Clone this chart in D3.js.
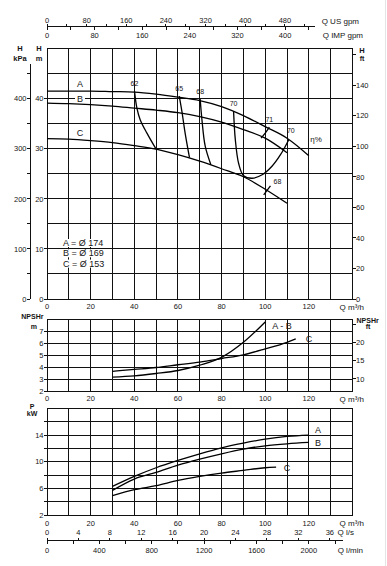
<!DOCTYPE html>
<html>
<head>
<meta charset="utf-8">
<script src="https://cdn.jsdelivr.net/npm/d3@7"></script>
<style>
    body { margin: 0; background: #fff; }
    svg text { font-family: 'Liberation Sans', Arial, sans-serif; fill: #151515; }
</style>
</head>
<body>
<div id="chart"></div>
<script>
// head curves, H [m] against Q [m3/h]
var qHeadA = [0, 10, 20, 30, 40, 50, 60, 70, 80, 90, 100, 110, 120];
var headA = [41.5, 41.5, 41.5, 41.4, 41.3, 40.9, 40.3, 39.6, 38.4, 36.6, 34.4, 32.1, 28.6];
var qHeadBC = [0, 10, 20, 30, 40, 50, 60, 70, 80, 90, 100, 110];
var headB = [39.1, 39.0, 38.8, 38.5, 38.1, 37.7, 37.2, 36.4, 35.3, 33.8, 32.1, 29.2];
var headC = [32.0, 31.9, 31.6, 31.2, 30.6, 29.9, 28.8, 27.5, 26.0, 24.4, 21.9, 19.1];

// iso-efficiency lines (eta %)
var effNames = ['62', '65', '68', '70', '71', '68'];
var effQ = [
    [40.1, 41.2, 42.7, 45.8, 50.0],
    [60.6, 61.8, 63.3, 65.3],
    [70.2, 71.0, 72.5, 75.1],
    [85.5, 86.3, 87.8, 90.1, 94.0, 98.6, 103.1, 107.0, 110.8],
    [101.9, 100.0, 98.1],
    [99.3, 102.4]
];
var effH = [
    [41.5, 38.1, 35.8, 33.1, 29.9],
    [40.5, 37.5, 33.1, 28.2],
    [39.9, 35.8, 30.5, 26.8],
    [37.5, 31.8, 27.1, 24.6, 24.1, 24.8, 26.5, 28.8, 31.8],
    [34.3, 33.1, 32.1],
    [20.8, 22.6]
];

// NPSHr [m]
var qNpshAB = [30, 40, 50, 60, 70, 80, 90, 100];
var npshAB = [3.2, 3.3, 3.5, 3.75, 4.2, 4.85, 6.1, 7.8];
var qNpshC = [30, 40, 50, 60, 70, 80, 90, 100, 110, 114];
var npshC = [3.68, 3.84, 4.0, 4.23, 4.45, 4.75, 5.06, 5.55, 6.1, 6.38];

// power P [kW]
var qPowAB = [30, 40, 50, 60, 70, 80, 90, 100, 110, 120];
var powA = [6.3, 7.8, 9.1, 10.2, 11.2, 12.1, 12.8, 13.4, 13.8, 14.0];
var powB = [5.7, 7.4, 8.4, 9.5, 10.4, 11.2, 11.9, 12.4, 12.7, 12.9];
var qPowC = [30, 40, 50, 60, 70, 80, 90, 100, 105];
var powC = [4.9, 5.8, 6.4, 7.2, 7.8, 8.3, 8.7, 9.1, 9.2];

// impeller legend
var impellers = ['A = Ø 174', 'B = Ø 169', 'C = Ø 153'];

// tick labels
var qLabels = [0, 20, 40, 60, 80, 100, 120];
var usLabels = [0, 80, 160, 240, 320, 400, 480];
var impLabels = [0, 80, 160, 240, 320, 400];
var lsLabels = [0, 4, 8, 12, 16, 20, 24, 28, 32, 36];
var lminLabels = [0, 400, 800, 1200, 1600, 2000];
var hLabels = [0, 10, 20, 30, 40];
var kpaLabels = [0, 100, 200, 300, 400];
var ftLabels = [0, 20, 40, 60, 80, 100, 120, 140];
var npshLabels = [2, 3, 4, 5, 6, 7];
var npshFtLabels = [10, 15, 20];
var powLabels = [2, 6, 10, 14];

var width = 387;
var height = 566;
var ink = '#111';

var svg = d3.select('#chart').append('svg')
    .attr('width', width)
    .attr('height', height);

// q scales
var x = d3.scaleLinear().domain([0, 140]).range([47, 352.5]);
var xUS = d3.scaleLinear().domain([0, 140 * 4.4029]).range(x.range());
var xIMP = d3.scaleLinear().domain([0, 140 * 3.6662]).range(x.range());
var xLs = d3.scaleLinear().domain([0, 140 / 3.6]).range(x.range());
var xLmin = d3.scaleLinear().domain([0, 140 * 1000 / 60]).range(x.range());

// vertical scales
var yH = d3.scaleLinear().domain([0, 50]).range([299, 48.5]);
var yKpa = d3.scaleLinear().domain([0, 500]).range(yH.range());
var yFt = d3.scaleLinear().domain([0, 50 * 3.2808]).range(yH.range());
var yN = d3.scaleLinear().domain([2, 8]).range([391.5, 319.5]);
var yNft = d3.scaleLinear().domain([2 * 3.2808, 8 * 3.2808]).range(yN.range());
var yP = d3.scaleLinear().domain([2, 18]).range([515, 408.5]);

function zip(qs, vs) {
    return qs.map(function (q, i) { return [q, vs[i]]; });
}

function text(g, tx, ty, str, size, anchor, weight) {
    return g.append('text')
        .attr('x', tx)
        .attr('y', ty)
        .attr('text-anchor', anchor || 'middle')
        .style('font-size', size + 'px')
        .style('font-weight', weight || 'normal')
        .text(str);
}

// grid of one panel
function grid(yScale, yStep) {
    var g = svg.append('g').attr('shape-rendering', 'crispEdges');
    var y0 = yScale.domain()[0];
    var y1 = yScale.domain()[1];
    g.selectAll('.vg')
        .data(d3.range(0, 141, 10))
        .enter().append('line')
        .attr('x1', function (d) { return x(d); })
        .attr('x2', function (d) { return x(d); })
        .attr('y1', yScale(y0))
        .attr('y2', yScale(y1))
        .attr('stroke', ink)
        .attr('stroke-width', 1);
    g.selectAll('.hg')
        .data(d3.range(y0, y1 + 0.001, yStep))
        .enter().append('line')
        .attr('x1', x(0))
        .attr('x2', x(140))
        .attr('y1', function (d) { return yScale(d); })
        .attr('y2', function (d) { return yScale(d); })
        .attr('stroke', ink)
        .attr('stroke-width', 1);
    return g;
}

// ticks drawn outwards from a vertical line
function vTicks(xPos, scale, values, side, labels) {
    var g = svg.append('g');
    g.selectAll('line')
        .data(values)
        .enter().append('line')
        .attr('x1', xPos)
        .attr('x2', xPos + side * 3)
        .attr('y1', function (d) { return scale(d); })
        .attr('y2', function (d) { return scale(d); })
        .attr('stroke', ink)
        .attr('stroke-width', 1)
        .attr('shape-rendering', 'crispEdges');
    g.selectAll('text')
        .data(labels)
        .enter().append('text')
        .attr('x', xPos + side * 3.5)
        .attr('y', function (d) { return scale(d) + 2.7; })
        .attr('text-anchor', side < 0 ? 'end' : 'start')
        .style('font-size', '7.5px')
        .text(function (d) { return d; });
}

function qLabelRow(yPos) {
    var g = svg.append('g');
    g.selectAll('text')
        .data(qLabels)
        .enter().append('text')
        .attr('x', function (d) { return x(d); })
        .attr('y', yPos)
        .attr('text-anchor', 'middle')
        .style('font-size', '7.5px')
        .text(function (d) { return d; });
    text(g, 364, yPos + 0.5, 'Q m³/h', 8, 'end');
}

// ticks drawn from a horizontal line
function hTicks(scale, step, max, yPos, dir, labels, labelY) {
    var g = svg.append('g');
    g.selectAll('line')
        .data(d3.range(0, max + 0.001, step))
        .enter().append('line')
        .attr('x1', function (d) { return scale(d); })
        .attr('x2', function (d) { return scale(d); })
        .attr('y1', yPos)
        .attr('y2', yPos + dir * 3)
        .attr('stroke', ink)
        .attr('stroke-width', 1)
        .attr('shape-rendering', 'crispEdges');
    g.selectAll('text')
        .data(labels)
        .enter().append('text')
        .attr('x', function (d) { return scale(d); })
        .attr('y', labelY)
        .attr('text-anchor', 'middle')
        .style('font-size', '7.5px')
        .text(function (d) { return d; });
}

function curve(g, pts, yScale, kind) {
    g.append('path')
        .datum(pts)
        .attr('d', d3.line()
            .x(function (d) { return x(d[0]); })
            .y(function (d) { return yScale(d[1]); })
            .curve(kind || d3.curveMonotoneX))
        .attr('fill', 'none')
        .attr('stroke', '#000')
        .attr('stroke-width', 1.3);
}

// ---------- top flow axes ----------
svg.append('line')
    .attr('x1', x(0)).attr('x2', x(123))
    .attr('y1', 26.5).attr('y2', 26.5)
    .attr('stroke', ink).attr('stroke-width', 1)
    .attr('shape-rendering', 'crispEdges');
hTicks(xUS, 40, 540, 26.5, -1, usLabels, 23.4);
hTicks(xIMP, 40, 440, 26.5, 1, impLabels, 37.8);
text(svg, 359, 23.6, 'Q US gpm', 8, 'end');
text(svg, 363, 38, 'Q IMP gpm', 8, 'end');

// ---------- head panel ----------
grid(yH, 5);
vTicks(x(0), yH, hLabels, -1, hLabels);
vTicks(x(140), yFt, d3.range(0, 161, 20), 1, ftLabels);
svg.append('line')
    .attr('x1', 30).attr('x2', 30)
    .attr('y1', 64).attr('y2', yKpa(0))
    .attr('stroke', ink).attr('stroke-width', 1)
    .attr('shape-rendering', 'crispEdges');
vTicks(30, yKpa, d3.range(0, 451, 50), -1, kpaLabels);
text(svg, 20, 50.5, 'H', 7.5, 'middle', 'bold');
text(svg, 20, 60.5, 'kPa', 7.5, 'middle', 'bold');
text(svg, 39, 50.5, 'H', 7.5, 'middle', 'bold');
text(svg, 39, 60.5, 'm', 7.5, 'middle', 'bold');
text(svg, 362, 52.5, 'H', 7.5, 'middle', 'bold');
text(svg, 362, 60.5, 'ft', 7, 'middle', 'bold');
qLabelRow(309);

var head = svg.append('g');
curve(head, zip(qHeadA, headA), yH);
curve(head, zip(qHeadBC, headB), yH);
curve(head, zip(qHeadBC, headC), yH);

// efficiency lines and their values
var effG = svg.append('g');
for (var i = 0; i < effNames.length; i++) {
    curve(effG, zip(effQ[i], effH[i]), yH, d3.curveCatmullRom);
}
// label at the first point, except the last 68
var effLabelAt = [0, 0, 0, 0, 0, 1];
for (var i = 0; i < effNames.length; i++) {
    var k = effLabelAt[i] ? effQ[i].length - 1 : 0;
    var lx = x(effQ[i][k]);
    var ly = yH(effH[i][k]) - 5;
    if (i === 5) { lx += 7; ly = yH(effH[i][k]) - 1.5; }
    text(effG, lx, ly, effNames[i], 7, 'middle');
}
// the 70 loop closes on curve A, value repeated there
text(effG, x(110.8) + 2, yH(31.8) - 6.5, '70', 7, 'middle');
text(effG, 316, 142, 'η%', 8, 'middle');

// curve letters
text(head, 80, 86.5, 'A', 9, 'middle');
head.append('rect').attr('x', 75).attr('y', 94.5).attr('width', 10).attr('height', 8).attr('fill', '#fff');
text(head, 80, 102, 'B', 9, 'middle');
text(head, 80, 136, 'C', 9, 'middle');

// impeller legend
var leg = svg.append('g');
impellers.forEach(function (s, j) {
    var ty = 246 + j * 10.3;
    var t = text(leg, 63, ty, s, 9, 'start');
    var bb = t.node().getBBox();
    leg.insert('rect', 'text')
        .attr('x', bb.x - 1).attr('y', bb.y + 1)
        .attr('width', bb.width + 2).attr('height', bb.height - 2)
        .attr('fill', '#fff');
});

// ---------- NPSHr panel ----------
grid(yN, 1);
vTicks(x(0), yN, npshLabels, -1, npshLabels);
vTicks(x(140), yNft, [10, 15, 20, 25], 1, npshFtLabels);
text(svg, 43.5, 319, 'NPSHr', 7, 'end', 'bold');
text(svg, 37, 329, 'm', 7, 'end', 'bold');
text(svg, 356.5, 322.5, 'NPSHr', 7, 'start', 'bold');
text(svg, 368, 328.5, 'ft', 7, 'middle', 'bold');
qLabelRow(401);

var npsh = svg.append('g');
curve(npsh, zip(qNpshAB, npshAB), yN);
curve(npsh, zip(qNpshC, npshC), yN);
text(npsh, 282, 329, 'A - B', 9, 'middle');
text(npsh, 309, 341.5, 'C', 9, 'middle');

// ---------- power panel ----------
grid(yP, 2);
vTicks(x(0), yP, d3.range(2, 17, 2), -1, powLabels);
text(svg, 32, 409, 'P', 7, 'middle', 'bold');
text(svg, 32, 415.5, 'kW', 7, 'middle', 'bold');
qLabelRow(525.5);

var pow = svg.append('g');
curve(pow, zip(qPowAB, powA), yP);
curve(pow, zip(qPowAB, powB), yP);
curve(pow, zip(qPowC, powC), yP);
text(pow, 318, 432.5, 'A', 9, 'middle');
text(pow, 318, 446, 'B', 9, 'middle');
text(pow, 287, 470.5, 'C', 9, 'middle');

// ---------- bottom flow axes ----------
svg.append('line')
    .attr('x1', x(0)).attr('x2', 343)
    .attr('y1', 540.5).attr('y2', 540.5)
    .attr('stroke', ink).attr('stroke-width', 1)
    .attr('shape-rendering', 'crispEdges');
hTicks(xLs, 4, 36, 540.5, -1, lsLabels, 535.3);
hTicks(xLmin, 200, 2200, 540.5, 1, lminLabels, 552.7);
text(svg, 354, 535.3, 'Q l/s', 8, 'end');
text(svg, 363, 552.7, 'Q l/min', 8, 'end');

// faint frame line at the right edge of the scan
svg.append('line')
    .attr('x1', 385.5).attr('x2', 385.5)
    .attr('y1', 0).attr('y2', height)
    .attr('stroke', '#e4e4e4').attr('stroke-width', 1);
</script>
</body>
</html>
